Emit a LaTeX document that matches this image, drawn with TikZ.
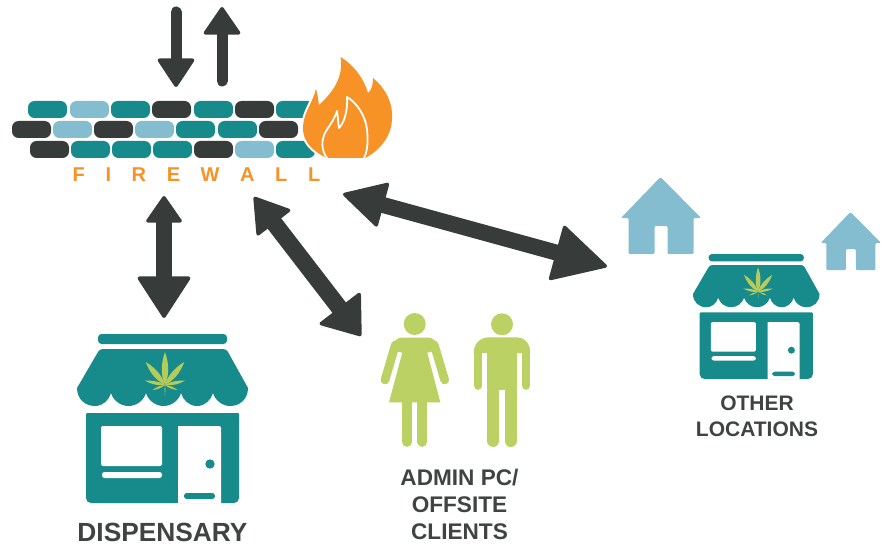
\documentclass[tikz,border=0pt]{standalone}
\usepackage{fontspec}
\setmainfont{Liberation Sans}
\usetikzlibrary{arrows.meta}
\definecolor{tealc}{HTML}{178A8C}
\definecolor{lightc}{HTML}{84BCD0}
\definecolor{darkc}{HTML}{373B3A}
\definecolor{orangec}{HTML}{F79226}
\definecolor{greenc}{HTML}{BCD163}
\definecolor{leafc}{HTML}{B5CC5B}
\definecolor{labelc}{HTML}{3F4342}
\tikzset{
  brick/.style={rounded corners=6.5pt},
  arrowline/.style={draw=darkc,fill=darkc,color=darkc},
  lbl/.style={font=\bfseries\selectfont,text=labelc,align=center,inner sep=0pt},
  store/.pic={
    \fill[tealc,rounded corners=3.5pt] (98,334) rectangle (227,344);
    \fill[tealc] (77,388) -- (98,352) .. controls (99,350) and (101,349) .. (103,349) -- (223,349) .. controls (225,349) and (227,350) .. (228,352) -- (248,388)
      .. controls (248,399) and (240,406) .. (230,406) .. controls (222,406) and (215,400) .. (213,393)
      .. controls (211,400) and (205,406) .. (197,406) .. controls (189,406) and (183,400) .. (181,393)
      .. controls (179,400) and (172,406) .. (163.5,406) .. controls (155,406) and (148,400) .. (146,393)
      .. controls (144,400) and (137,406) .. (128.5,406) .. controls (120,406) and (113,400) .. (111,393)
      .. controls (109,400) and (103,406) .. (95,406) .. controls (85,406) and (77,399) .. (77,388) -- cycle;
    \foreach \ang/\len/\wid in {0/33/5,40/30/4.5,-40/30/4.5,78/20.5/2.6,-78/20.5/2.6,112/13.5/1.6,-112/13.5/1.6,180/11/.5}{
      \fill[leafc,shift={(165,385)},rotate=\ang] (0,0) .. controls (\wid,-.35*\len) and (.7*\wid,-.7*\len) .. (0,-\len) .. controls (-.7*\wid,-.7*\len) and (-\wid,-.35*\len) .. (0,0) -- cycle;
    }
    \fill[tealc,rounded corners=5pt] (86,418) -- (86,503) -- (239,503) -- (239,418) -- cycle;
    \fill[tealc,rounded corners=1pt] (86,425) -- (86,413) -- (239,413) -- (239,425) -- cycle;
    \fill[white,rounded corners=2pt] (101,426) rectangle (162,466);
    \fill[white,rounded corners=2.5pt] (102,472) rectangle (162,478);
    \fill[white] (178,503.5) -- (178,426) -- (219,426) .. controls (220.5,426) and (221,427) .. (221,428) -- (221,503.5) -- cycle;
    \fill[tealc] (210,464) circle (4.7);
    \fill[tealc,rounded corners=2.8pt] (184,493) rectangle (215,499);
  },
  house/.pic={
    \fill[lightc,rounded corners=1.2pt] (0,0) -- (40.5,41) -- (33,41) -- (33,77) -- (7,77) -- (7,49) -- (-6,49) -- (-6,77) -- (-32,77) -- (-32,41) -- (-39.5,41) -- cycle;
  }
}
\begin{document}
\begin{tikzpicture}[x=1pt,y=-1pt]
\useasboundingbox (0,0) rectangle (888,545);
% connector ends
\coordinate (downA) at (176,12);
\coordinate (downB) at (176,87);
\coordinate (upA) at (222,81);
\coordinate (upB) at (222,7);
\coordinate (dispA) at (164,196);
\coordinate (dispB) at (164,318);
\coordinate (adminA) at (254,197);
\coordinate (adminB) at (361,336);
\coordinate (otherA) at (343,194);
\coordinate (otherB) at (607,266.5);
% connectors
\draw[arrowline,line width=11pt,line cap=round,-{Triangle[width=39pt,length=30pt,line width=3.5pt,round]}] (downA) -- (downB);
\draw[arrowline,line width=11pt,line cap=round,-{Triangle[width=39pt,length=29pt,line width=3.5pt,round]}] (upA) -- (upB);
\draw[arrowline,line width=16pt,{Triangle[width=38pt,length=28pt,line width=3.5pt,round]}-{Triangle[width=55pt,length=43pt,line width=3.5pt,round]}] (dispA) -- (dispB);
\draw[arrowline,line width=17pt,{Triangle[width=44pt,length=35pt,line width=3.5pt,round]}-{Triangle[width=54pt,length=37pt,line width=3.5pt,round]}] (adminA) -- (adminB);
\draw[arrowline,line width=16pt,{Triangle[width=47pt,length=44pt,line width=3.5pt,round]}-{Triangle[width=58pt,length=55pt,line width=3.5pt,round]}] (otherA) -- (otherB);
% firewall bricks
\foreach \x/\c in {28/tealc,70/lightc,111/tealc,152/darkc,194/tealc,235/darkc,276/tealc}
  \fill[\c,brick] (\x,101) rectangle (\x+39,118);
\foreach \x/\c in {12/darkc,53/lightc,94/darkc,135/lightc,176/tealc,218/tealc,259/darkc}
  \fill[\c,brick] (\x,121) rectangle (\x+39,138);
\foreach \x/\c in {30/darkc,71/tealc,112/tealc,153/tealc,194/darkc,235/lightc,276/tealc}
  \fill[\c,brick] (\x,141) rectangle (\x+39,158);
% flame
\def\flamepath{(327,158) .. controls (312,151) and (302,141) .. (303,126)
  .. controls (304,112) and (313,102) .. (316,89)
  .. controls (318,95) and (318,100) .. (319,105)
  .. controls (332,93) and (344,78) .. (340.5,57)
  .. controls (354,65) and (364,79) .. (368,93)
  .. controls (372,90) and (373,84) .. (373,78)
  .. controls (385,88) and (393,102) .. (392,118)
  .. controls (392,135) and (381,150) .. (365,158) -- cycle}
\draw[white,line width=4pt,line join=round] \flamepath;
\fill[orangec] \flamepath;
\draw[white,line width=1.8pt,line join=round] (327,158)
  .. controls (321,150) and (321,140) .. (326,131)
  .. controls (330,125) and (335,118) .. (337,111)
  .. controls (338,117) and (338,122) .. (339,128)
  .. controls (345,122) and (348,108) .. (347,97)
  .. controls (357,103) and (365,115) .. (367,129)
  .. controls (368,140) and (368,150) .. (364,158);
\node[inner sep=0pt,font=\bfseries\fontsize{20}{24}\selectfont,text=orangec] (fw) at (196.5,175) {\spaceskip=20.6pt F I R E W A L L};
% stores
\pic at (0,0) {store};
\pic at (636,6.84) [scale=.74] {store};
% houses
\pic at (660.5,177) {house};
\pic at (850.5,212) [scale=.755] {house};
% woman
\fill[greenc] (414.7,324) circle (11);
\fill[greenc] (391,350) .. controls (392,342) and (397,337.5) .. (402,337.5) -- (428,337.5) .. controls (433,337.5) and (438,342) .. (439,350) -- (427.3,352.7) -- (440.3,402.3) -- (389,402.3) -- (402.3,352.7) -- cycle;
\draw[greenc,line width=8.7pt,line cap=round] (395.3,345) -- (385,380);
\draw[greenc,line width=8.7pt,line cap=round] (434.3,345) -- (444.7,380);
\draw[greenc,line width=9.7pt,line cap=round] (407,400) -- (407,442);
\draw[greenc,line width=9.7pt,line cap=round] (422.3,400) -- (422.3,442);
% man
\fill[greenc] (502,324.3) circle (11);
\fill[greenc] (473.7,353) .. controls (473.7,343) and (481,337.3) .. (489,337.3) -- (516,337.3) .. controls (524,337.3) and (530.3,343) .. (530.3,353) -- cycle;
\fill[greenc] (487.3,345) rectangle (516.7,389.5);
\draw[greenc,line width=8.7pt,line cap=round] (478,350) -- (478,385.5);
\draw[greenc,line width=8.7pt,line cap=round] (526,350) -- (526,385.5);
\draw[greenc,line width=12pt,line cap=round] (493.3,392) -- (493.3,441);
\draw[greenc,line width=12pt,line cap=round] (510.7,392) -- (510.7,441);
% labels
\node[inner sep=0pt,anchor=base,font=\bfseries\fontsize{26.3}{30}\selectfont,text=labelc] (dispensary) at (162.5,541.5) {DISPENSARY};
\node[lbl,font=\bfseries\fontsize{22.6}{27}\selectfont] (admin) at (459.5,504) {ADMIN PC/\\OFFSITE\\CLIENTS};
\node[lbl,font=\bfseries\fontsize{21}{26}\selectfont] (other) at (757,416.5) {OTHER\\LOCATIONS};
\end{tikzpicture}
\end{document}
